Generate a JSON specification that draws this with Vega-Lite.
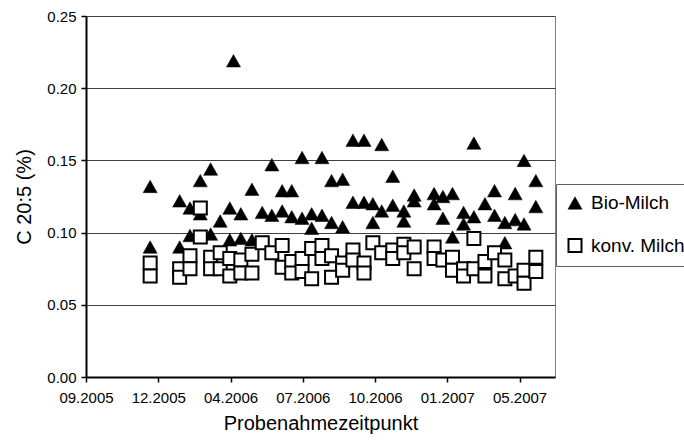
{
  "$schema": "https://vega.github.io/schema/vega-lite/v6.json",
  "autosize": "none",
  "width": 469,
  "height": 361,
  "padding": {"left": 86, "top": 16, "right": 129, "bottom": 66},
  "background": "white",
  "config": {
    "font": "Liberation Sans",
    "view": {"stroke": "#808080", "strokeWidth": 1},
    "axis": {"labelFont": "Liberation Sans", "titleFont": "Liberation Sans", "labelColor": "black", "titleColor": "black", "titleFontWeight": "normal"},
    "legend": {"labelFont": "Liberation Sans"}
  },
  "data": {
    "values": [
      {"Datum": "2005-12-18", "Wert": 0.132, "Milch": "Bio-Milch"},
      {"Datum": "2005-12-18", "Wert": 0.090, "Milch": "Bio-Milch"},
      {"Datum": "2006-01-27", "Wert": 0.122, "Milch": "Bio-Milch"},
      {"Datum": "2006-01-27", "Wert": 0.090, "Milch": "Bio-Milch"},
      {"Datum": "2006-02-10", "Wert": 0.117, "Milch": "Bio-Milch"},
      {"Datum": "2006-02-10", "Wert": 0.098, "Milch": "Bio-Milch"},
      {"Datum": "2006-02-24", "Wert": 0.136, "Milch": "Bio-Milch"},
      {"Datum": "2006-02-24", "Wert": 0.113, "Milch": "Bio-Milch"},
      {"Datum": "2006-03-10", "Wert": 0.144, "Milch": "Bio-Milch"},
      {"Datum": "2006-03-10", "Wert": 0.099, "Milch": "Bio-Milch"},
      {"Datum": "2006-03-23", "Wert": 0.108, "Milch": "Bio-Milch"},
      {"Datum": "2006-04-05", "Wert": 0.117, "Milch": "Bio-Milch"},
      {"Datum": "2006-04-05", "Wert": 0.095, "Milch": "Bio-Milch"},
      {"Datum": "2006-04-10", "Wert": 0.219, "Milch": "Bio-Milch"},
      {"Datum": "2006-04-20", "Wert": 0.113, "Milch": "Bio-Milch"},
      {"Datum": "2006-04-20", "Wert": 0.096, "Milch": "Bio-Milch"},
      {"Datum": "2006-05-05", "Wert": 0.130, "Milch": "Bio-Milch"},
      {"Datum": "2006-05-05", "Wert": 0.095, "Milch": "Bio-Milch"},
      {"Datum": "2006-05-19", "Wert": 0.114, "Milch": "Bio-Milch"},
      {"Datum": "2006-06-01", "Wert": 0.147, "Milch": "Bio-Milch"},
      {"Datum": "2006-06-01", "Wert": 0.112, "Milch": "Bio-Milch"},
      {"Datum": "2006-06-15", "Wert": 0.129, "Milch": "Bio-Milch"},
      {"Datum": "2006-06-15", "Wert": 0.115, "Milch": "Bio-Milch"},
      {"Datum": "2006-06-28", "Wert": 0.129, "Milch": "Bio-Milch"},
      {"Datum": "2006-06-28", "Wert": 0.111, "Milch": "Bio-Milch"},
      {"Datum": "2006-07-12", "Wert": 0.152, "Milch": "Bio-Milch"},
      {"Datum": "2006-07-12", "Wert": 0.110, "Milch": "Bio-Milch"},
      {"Datum": "2006-07-25", "Wert": 0.113, "Milch": "Bio-Milch"},
      {"Datum": "2006-07-25", "Wert": 0.103, "Milch": "Bio-Milch"},
      {"Datum": "2006-08-08", "Wert": 0.152, "Milch": "Bio-Milch"},
      {"Datum": "2006-08-08", "Wert": 0.112, "Milch": "Bio-Milch"},
      {"Datum": "2006-08-21", "Wert": 0.136, "Milch": "Bio-Milch"},
      {"Datum": "2006-08-21", "Wert": 0.107, "Milch": "Bio-Milch"},
      {"Datum": "2006-09-05", "Wert": 0.137, "Milch": "Bio-Milch"},
      {"Datum": "2006-09-05", "Wert": 0.104, "Milch": "Bio-Milch"},
      {"Datum": "2006-09-19", "Wert": 0.164, "Milch": "Bio-Milch"},
      {"Datum": "2006-09-19", "Wert": 0.121, "Milch": "Bio-Milch"},
      {"Datum": "2006-10-04", "Wert": 0.164, "Milch": "Bio-Milch"},
      {"Datum": "2006-10-04", "Wert": 0.121, "Milch": "Bio-Milch"},
      {"Datum": "2006-10-16", "Wert": 0.120, "Milch": "Bio-Milch"},
      {"Datum": "2006-10-16", "Wert": 0.107, "Milch": "Bio-Milch"},
      {"Datum": "2006-10-28", "Wert": 0.161, "Milch": "Bio-Milch"},
      {"Datum": "2006-10-28", "Wert": 0.115, "Milch": "Bio-Milch"},
      {"Datum": "2006-11-12", "Wert": 0.139, "Milch": "Bio-Milch"},
      {"Datum": "2006-11-12", "Wert": 0.119, "Milch": "Bio-Milch"},
      {"Datum": "2006-11-27", "Wert": 0.115, "Milch": "Bio-Milch"},
      {"Datum": "2006-11-27", "Wert": 0.108, "Milch": "Bio-Milch"},
      {"Datum": "2006-12-11", "Wert": 0.126, "Milch": "Bio-Milch"},
      {"Datum": "2006-12-11", "Wert": 0.122, "Milch": "Bio-Milch"},
      {"Datum": "2007-01-07", "Wert": 0.127, "Milch": "Bio-Milch"},
      {"Datum": "2007-01-07", "Wert": 0.120, "Milch": "Bio-Milch"},
      {"Datum": "2007-01-19", "Wert": 0.125, "Milch": "Bio-Milch"},
      {"Datum": "2007-01-19", "Wert": 0.110, "Milch": "Bio-Milch"},
      {"Datum": "2007-02-01", "Wert": 0.127, "Milch": "Bio-Milch"},
      {"Datum": "2007-02-01", "Wert": 0.097, "Milch": "Bio-Milch"},
      {"Datum": "2007-02-16", "Wert": 0.114, "Milch": "Bio-Milch"},
      {"Datum": "2007-02-16", "Wert": 0.106, "Milch": "Bio-Milch"},
      {"Datum": "2007-03-02", "Wert": 0.162, "Milch": "Bio-Milch"},
      {"Datum": "2007-03-02", "Wert": 0.111, "Milch": "Bio-Milch"},
      {"Datum": "2007-03-17", "Wert": 0.120, "Milch": "Bio-Milch"},
      {"Datum": "2007-03-30", "Wert": 0.129, "Milch": "Bio-Milch"},
      {"Datum": "2007-03-30", "Wert": 0.112, "Milch": "Bio-Milch"},
      {"Datum": "2007-04-13", "Wert": 0.107, "Milch": "Bio-Milch"},
      {"Datum": "2007-04-13", "Wert": 0.093, "Milch": "Bio-Milch"},
      {"Datum": "2007-04-27", "Wert": 0.127, "Milch": "Bio-Milch"},
      {"Datum": "2007-04-27", "Wert": 0.109, "Milch": "Bio-Milch"},
      {"Datum": "2007-05-09", "Wert": 0.150, "Milch": "Bio-Milch"},
      {"Datum": "2007-05-09", "Wert": 0.106, "Milch": "Bio-Milch"},
      {"Datum": "2007-05-25", "Wert": 0.136, "Milch": "Bio-Milch"},
      {"Datum": "2007-05-25", "Wert": 0.118, "Milch": "Bio-Milch"},
      {"Datum": "2005-12-18", "Wert": 0.079, "Milch": "konv. Milch"},
      {"Datum": "2005-12-18", "Wert": 0.070, "Milch": "konv. Milch"},
      {"Datum": "2006-01-27", "Wert": 0.075, "Milch": "konv. Milch"},
      {"Datum": "2006-01-27", "Wert": 0.069, "Milch": "konv. Milch"},
      {"Datum": "2006-02-10", "Wert": 0.084, "Milch": "konv. Milch"},
      {"Datum": "2006-02-10", "Wert": 0.075, "Milch": "konv. Milch"},
      {"Datum": "2006-02-24", "Wert": 0.117, "Milch": "konv. Milch"},
      {"Datum": "2006-02-24", "Wert": 0.097, "Milch": "konv. Milch"},
      {"Datum": "2006-03-10", "Wert": 0.083, "Milch": "konv. Milch"},
      {"Datum": "2006-03-10", "Wert": 0.075, "Milch": "konv. Milch"},
      {"Datum": "2006-03-23", "Wert": 0.086, "Milch": "konv. Milch"},
      {"Datum": "2006-03-23", "Wert": 0.075, "Milch": "konv. Milch"},
      {"Datum": "2006-04-05", "Wert": 0.082, "Milch": "konv. Milch"},
      {"Datum": "2006-04-05", "Wert": 0.070, "Milch": "konv. Milch"},
      {"Datum": "2006-04-20", "Wert": 0.081, "Milch": "konv. Milch"},
      {"Datum": "2006-04-20", "Wert": 0.072, "Milch": "konv. Milch"},
      {"Datum": "2006-05-05", "Wert": 0.085, "Milch": "konv. Milch"},
      {"Datum": "2006-05-05", "Wert": 0.072, "Milch": "konv. Milch"},
      {"Datum": "2006-05-19", "Wert": 0.093, "Milch": "konv. Milch"},
      {"Datum": "2006-06-01", "Wert": 0.086, "Milch": "konv. Milch"},
      {"Datum": "2006-06-15", "Wert": 0.091, "Milch": "konv. Milch"},
      {"Datum": "2006-06-15", "Wert": 0.076, "Milch": "konv. Milch"},
      {"Datum": "2006-06-28", "Wert": 0.080, "Milch": "konv. Milch"},
      {"Datum": "2006-06-28", "Wert": 0.072, "Milch": "konv. Milch"},
      {"Datum": "2006-07-12", "Wert": 0.082, "Milch": "konv. Milch"},
      {"Datum": "2006-07-12", "Wert": 0.073, "Milch": "konv. Milch"},
      {"Datum": "2006-07-25", "Wert": 0.089, "Milch": "konv. Milch"},
      {"Datum": "2006-07-25", "Wert": 0.068, "Milch": "konv. Milch"},
      {"Datum": "2006-08-08", "Wert": 0.082, "Milch": "konv. Milch"},
      {"Datum": "2006-08-08", "Wert": 0.091, "Milch": "konv. Milch"},
      {"Datum": "2006-08-21", "Wert": 0.084, "Milch": "konv. Milch"},
      {"Datum": "2006-08-21", "Wert": 0.069, "Milch": "konv. Milch"},
      {"Datum": "2006-09-05", "Wert": 0.079, "Milch": "konv. Milch"},
      {"Datum": "2006-09-05", "Wert": 0.074, "Milch": "konv. Milch"},
      {"Datum": "2006-09-19", "Wert": 0.088, "Milch": "konv. Milch"},
      {"Datum": "2006-09-19", "Wert": 0.081, "Milch": "konv. Milch"},
      {"Datum": "2006-10-04", "Wert": 0.079, "Milch": "konv. Milch"},
      {"Datum": "2006-10-04", "Wert": 0.072, "Milch": "konv. Milch"},
      {"Datum": "2006-10-16", "Wert": 0.093, "Milch": "konv. Milch"},
      {"Datum": "2006-10-28", "Wert": 0.086, "Milch": "konv. Milch"},
      {"Datum": "2006-11-12", "Wert": 0.088, "Milch": "konv. Milch"},
      {"Datum": "2006-11-12", "Wert": 0.082, "Milch": "konv. Milch"},
      {"Datum": "2006-11-27", "Wert": 0.092, "Milch": "konv. Milch"},
      {"Datum": "2006-11-27", "Wert": 0.086, "Milch": "konv. Milch"},
      {"Datum": "2006-12-11", "Wert": 0.090, "Milch": "konv. Milch"},
      {"Datum": "2006-12-11", "Wert": 0.075, "Milch": "konv. Milch"},
      {"Datum": "2007-01-07", "Wert": 0.090, "Milch": "konv. Milch"},
      {"Datum": "2007-01-07", "Wert": 0.082, "Milch": "konv. Milch"},
      {"Datum": "2007-01-19", "Wert": 0.081, "Milch": "konv. Milch"},
      {"Datum": "2007-02-01", "Wert": 0.083, "Milch": "konv. Milch"},
      {"Datum": "2007-02-01", "Wert": 0.074, "Milch": "konv. Milch"},
      {"Datum": "2007-02-16", "Wert": 0.075, "Milch": "konv. Milch"},
      {"Datum": "2007-02-16", "Wert": 0.070, "Milch": "konv. Milch"},
      {"Datum": "2007-03-02", "Wert": 0.075, "Milch": "konv. Milch"},
      {"Datum": "2007-03-02", "Wert": 0.096, "Milch": "konv. Milch"},
      {"Datum": "2007-03-17", "Wert": 0.080, "Milch": "konv. Milch"},
      {"Datum": "2007-03-17", "Wert": 0.070, "Milch": "konv. Milch"},
      {"Datum": "2007-03-30", "Wert": 0.086, "Milch": "konv. Milch"},
      {"Datum": "2007-04-13", "Wert": 0.081, "Milch": "konv. Milch"},
      {"Datum": "2007-04-13", "Wert": 0.068, "Milch": "konv. Milch"},
      {"Datum": "2007-04-27", "Wert": 0.070, "Milch": "konv. Milch"},
      {"Datum": "2007-05-09", "Wert": 0.074, "Milch": "konv. Milch"},
      {"Datum": "2007-05-09", "Wert": 0.065, "Milch": "konv. Milch"},
      {"Datum": "2007-05-25", "Wert": 0.083, "Milch": "konv. Milch"},
      {"Datum": "2007-05-25", "Wert": 0.073, "Milch": "konv. Milch"}
    ]
  },
  "mark": {"type": "point", "filled": false, "opacity": 1},
  "encoding": {
    "x": {
      "field": "Datum",
      "type": "temporal",
      "scale": {
        "type": "utc",
        "domain": [
          {"year": 2005, "month": 9, "date": 22, "utc": true},
          {"year": 2007, "month": 6, "date": 20, "utc": true}
        ]
      },
      "axis": {
        "title": "Probenahmezeitpunkt",
        "titleFontSize": 20,
        "titlePadding": 8,
        "labelFontSize": 15,
        "labelPadding": 8,
        "format": "%m.%Y",
        "values": [
          {"year": 2005, "month": 9, "date": 22, "utc": true},
          {"year": 2005, "month": 12, "date": 29, "utc": true},
          {"year": 2006, "month": 4, "date": 6, "utc": true},
          {"year": 2006, "month": 7, "date": 13, "utc": true},
          {"year": 2006, "month": 10, "date": 19, "utc": true},
          {"year": 2007, "month": 1, "date": 25, "utc": true},
          {"year": 2007, "month": 5, "date": 3, "utc": true}
        ],
        "grid": false,
        "domainColor": "black",
        "domainWidth": 2,
        "tickColor": "black",
        "tickWidth": 1.5,
        "tickSize": 5,
        "labelFlush": false
      }
    },
    "y": {
      "field": "Wert",
      "type": "quantitative",
      "scale": {"domain": [0, 0.25], "nice": false, "zero": true},
      "axis": {
        "title": "C 20:5 (%)",
        "titleFontSize": 20,
        "titlePadding": 12,
        "labelFontSize": 15,
        "labelPadding": 5,
        "format": ".2f",
        "values": [0, 0.05, 0.1, 0.15, 0.2, 0.25],
        "grid": true,
        "gridColor": "#404040",
        "gridWidth": 1,
        "domainColor": "black",
        "domainWidth": 2,
        "tickColor": "black",
        "tickWidth": 1.5,
        "tickSize": 5,
        "labelFlush": false
      }
    },
    "shape": {
      "field": "Milch",
      "type": "nominal",
      "scale": {"domain": ["Bio-Milch", "konv. Milch"], "range": ["M-1.08,0.96L1.08,0.96L0,-0.96Z", "square"]},
      "legend": {
        "title": null,
        "orient": "none",
        "legendX": 470,
        "legendY": 168,
        "padding": 9.5,
        "strokeColor": "#606060",
        "fillColor": "white",
        "labelFontSize": 19,
        "labelColor": "black",
        "labelOffset": 6.5,
        "rowPadding": 21.5,
        "symbolSize": 169,
        "encode": {"symbols": {"update": {"stroke": {"value": "black"}, "strokeWidth": {"value": 1.5}, "opacity": {"value": 1}}}}
      }
    },
    "fill": {
      "field": "Milch",
      "type": "nominal",
      "scale": {"domain": ["Bio-Milch", "konv. Milch"], "range": ["black", "white"]},
      "legend": {
        "title": null,
        "orient": "none",
        "legendX": 470,
        "legendY": 168,
        "padding": 9.5,
        "strokeColor": "#606060",
        "fillColor": "white",
        "labelFontSize": 19,
        "labelColor": "black",
        "labelOffset": 6.5,
        "rowPadding": 21.5,
        "symbolSize": 169,
        "encode": {"symbols": {"update": {"stroke": {"value": "black"}, "strokeWidth": {"value": 1.5}, "opacity": {"value": 1}}}}
      }
    },
    "strokeWidth": {
      "field": "Milch",
      "type": "nominal",
      "scale": {"domain": ["Bio-Milch", "konv. Milch"], "range": [0.5, 2]},
      "legend": null
    },
    "stroke": {"value": "black"},
    "size": {"value": 169}
  }
}
